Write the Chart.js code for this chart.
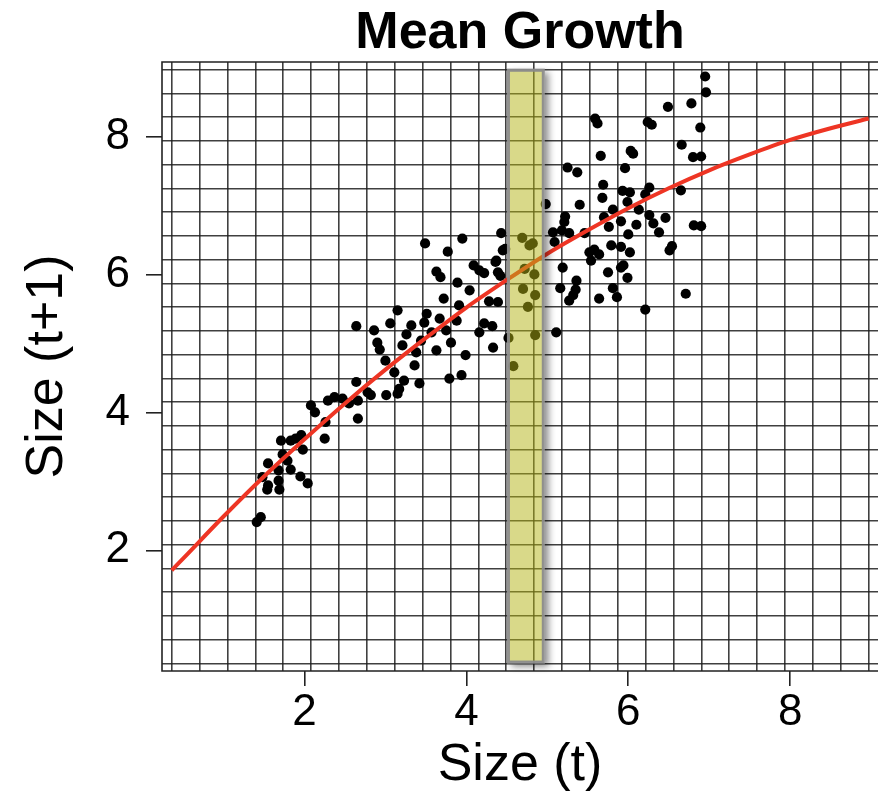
<!DOCTYPE html>
<html lang="en">
<head>
<meta charset="UTF-8">
<title>Mean Growth</title>
<script src="https://cdn.jsdelivr.net/npm/chart.js"></script>
<style>
  html, body { margin: 0; padding: 0; background: #fff; overflow: hidden; }
  #wrap { width: 878px; height: 797px; overflow: hidden; }
  canvas { display: block; }
</style>
</head>
<body>
<div id="wrap"><canvas id="growthChart"></canvas></div>
<script>
// observed sizes: size at t, size at t+1
const sizeT = [
  1.41, 1.46, 1.54, 1.55, 1.69, 1.68, 1.48, 1.55, 1.68, 1.83, 1.95, 2.04, 1.73, 1.79, 1.98, 1.71, 1.83, 1.96, 1.89, 2.25,
  2.26, 2.08, 2.13, 2.29, 2.37, 2.47, 2.55, 2.66, 2.66, 2.78, 2.82, 3.01, 3.15, 3.17, 3.23, 3.42, 2.64, 2.64, 2.86, 2.90,
  2.93, 3.00, 3.11, 3.06, 3.15, 3.21, 3.26, 3.32, 3.38, 3.44, 3.48, 3.51, 3.57, 3.63, 3.67, 3.72, 3.75, 3.81, 3.88, 3.91,
  3.94, 3.79, 3.36, 3.49, 3.63, 3.68, 3.77, 3.95, 4.09, 4.04, 3.89, 3.99,
  5.59, 5.62, 5.25, 5.37, 4.98, 5.40, 5.22, 5.21, 5.07, 5.18, 5.27, 5.09, 5.46, 4.43, 4.45, 4.48, 4.37,
  4.69, 4.78, 4.82, 4.72, 4.84, 4.70, 4.85, 4.76, 4.52, 4.85, 4.58,
  5.11, 5.52, 5.58, 5.54, 5.19, 5.36, 5.35, 5.32, 5.27, 5.16, 4.16, 4.22, 4.39, 4.42, 4.36, 4.28, 4.39, 4.22, 4.32, 4.33, 4.16,
  6.95, 6.96, 6.49, 6.78, 6.24, 6.29, 6.89, 6.66, 6.03, 6.06, 6.80, 6.90, 5.66, 5.96, 5.69, 5.68, 5.93, 6.02, 6.26, 6.21,
  6.65, 5.99, 6.13, 6.26, 6.46, 5.91, 6.10, 6.31, 6.38, 5.76, 5.81, 5.70, 6.00, 6.81, 6.90, 5.79, 5.91, 6.02, 5.64, 6.51,
  6.54, 5.75, 5.91, 5.94, 5.99, 5.81, 5.86, 5.64, 6.71, 6.21
];
const sizeT1 = [
  2.41, 2.48, 2.88, 2.94, 2.88, 3.01, 3.06, 3.26, 3.16, 3.17, 3.07, 2.97, 3.39, 3.30, 3.46, 3.59, 3.59, 3.67, 3.62, 3.62,
  3.86, 4.10, 4.00, 4.17, 4.22, 4.20, 4.13, 4.17, 3.91, 4.29, 4.25, 4.25, 4.27, 4.34, 4.46, 4.42, 4.44, 5.25, 5.19, 5.01,
  4.91, 4.75, 4.58, 5.29, 5.48, 4.97, 5.13, 5.26, 4.87, 5.04, 5.30, 5.43, 5.16, 4.90, 5.36, 5.65, 5.19, 5.01, 5.33, 5.55,
  4.54, 4.49, 4.68, 6.45, 6.04, 5.96, 6.33, 6.52, 6.13, 5.77, 5.88, 4.83,
  8.26, 8.19, 7.55, 7.48, 7.02, 7.01, 6.84, 6.76, 6.61, 6.64, 6.60, 6.47, 6.60, 6.60, 6.35, 6.37, 6.20,
  6.53, 6.42, 6.45, 6.08, 6.00, 5.79, 5.70, 5.53, 5.08, 5.12, 4.67,
  5.16, 6.32, 6.36, 6.20, 6.10, 5.91, 5.78, 5.70, 5.62, 5.80, 6.06, 6.02, 6.03, 5.98, 6.18, 5.61, 5.60, 5.29, 5.25, 4.94, 5.16,
  8.87, 8.64, 8.43, 8.48, 8.21, 8.17, 8.13, 7.88, 7.79, 7.75, 7.70, 7.71, 7.72, 7.54, 7.30, 7.11, 7.21, 7.19, 7.26, 7.16,
  7.22, 7.05, 6.94, 6.86, 6.82, 6.77, 6.72, 6.74, 6.61, 6.69, 6.94, 6.83, 6.58, 6.71, 6.70, 6.42, 6.40, 6.32, 6.29, 6.35,
  6.41, 6.03, 6.10, 6.13, 5.95, 5.80, 5.67, 5.65, 5.72, 5.49
];

// fitted mean growth curve
const curveX = [0.36, 0.5, 1.0, 1.5, 2.0, 2.5, 3.0, 3.5, 4.0, 4.5, 5.0, 5.5, 6.0, 6.5, 7.0, 7.5, 8.0, 8.5, 8.97];
const curveY = [1.71, 1.88, 2.49, 3.07, 3.61, 4.13, 4.62, 5.08, 5.52, 5.92, 6.30, 6.64, 6.96, 7.25, 7.51, 7.74, 7.95, 8.12, 8.26];

const xTickLabels = [2, 4, 6, 8];
const yTickLabels = [2, 4, 6, 8];

// highlighted size class
const bandX = [4.52, 4.95];
const bandY = [0.38, 8.96];

// integration mesh
const meshLo = 0.36, meshHi = 8.97, meshCells = 25;
const meshLines = [];
for (let k = 0; k <= meshCells; k++) meshLines.push(meshLo + k * (meshHi - meshLo) / meshCells);

const FONT = "'Liberation Sans', Arial, Helvetica, sans-serif";

function meshAxis(min, max, labels, titleText, isX) {
    return {
        type: 'linear',
        min: min,
        max: max,
        afterBuildTicks: s => {
            s.ticks = meshLines.concat(labels).sort((a, b) => a - b).map(v => ({ value: v }));
        },
        afterFit: s => {
            if (isX) s.height = 126; else s.width = 162;
            s.paddingLeft = 0; s.paddingRight = 0; s.paddingTop = 0; s.paddingBottom = 0;
        },
        ticks: {
            autoSkip: false,
            maxRotation: 0,
            padding: isX ? 0 : 16,
            color: '#000',
            font: { family: FONT, size: 44 },
            callback: v => labels.includes(v) ? String(v) : ''
        },
        grid: {
            color: c => labels.includes(c.tick.value) ? 'rgba(0,0,0,0)' : 'rgba(30,30,30,0.85)',
            tickColor: c => labels.includes(c.tick.value) ? '#222' : 'rgba(0,0,0,0)',
            lineWidth: 1.6,
            tickWidth: 1.6,
            tickLength: isX ? 15 : 16
        },
        border: { display: false },
        title: {
            display: true,
            text: titleText,
            color: '#000',
            font: { family: FONT, size: 52 },
            padding: isX ? { top: 0, bottom: 0 } : { top: 16, bottom: 0 }
        }
    };
}

const bandPlugin = {
    id: 'band',
    afterDatasetsDraw(chart) {
        const { ctx, scales: { x, y } } = chart;
        const l = x.getPixelForValue(bandX[0]), r = x.getPixelForValue(bandX[1]);
        const t = y.getPixelForValue(bandY[1]), b = y.getPixelForValue(bandY[0]);
        // soft drop shadow outside the band only
        ctx.save();
        ctx.beginPath();
        ctx.rect(0, 0, chart.width, chart.height);
        ctx.rect(l - 1.5, t - 1.5, r - l + 3, b - t + 3);
        ctx.clip('evenodd');
        ctx.shadowColor = 'rgba(0,0,0,0.45)';
        ctx.shadowBlur = 7;
        ctx.shadowOffsetX = 4;
        ctx.shadowOffsetY = 3;
        ctx.fillStyle = '#888';
        ctx.fillRect(l - 1.5, t - 1.5, r - l + 3, b - t + 3);
        ctx.restore();

        ctx.save();
        ctx.fillStyle = 'rgba(180,180,20,0.5)';
        ctx.fillRect(l, t, r - l, b - t);
        ctx.strokeStyle = 'rgba(140,140,140,0.95)';
        ctx.lineWidth = 3;
        ctx.strokeRect(l, t, r - l, b - t);
        ctx.restore();
    }
};

// plot frame: left, top and bottom (right side runs off the picture)
const framePlugin = {
    id: 'frame',
    afterDraw(chart) {
        const { ctx, chartArea: a } = chart;
        ctx.save();
        ctx.strokeStyle = '#222';
        ctx.lineWidth = 1.6;
        ctx.beginPath();
        ctx.moveTo(a.right + 2, a.top);
        ctx.lineTo(a.left, a.top);
        ctx.lineTo(a.left, a.bottom);
        ctx.lineTo(a.right + 2, a.bottom);
        ctx.stroke();
        ctx.restore();
    }
};

const ctx = document.getElementById('growthChart').getContext('2d');
new Chart(ctx, {
    type: 'scatter',
    data: {
        datasets: [
            {
                type: 'line',
                label: 'Mean growth',
                data: curveX.map((v, i) => ({ x: v, y: curveY[i] })),
                borderColor: '#ee3524',
                borderWidth: 4,
                pointRadius: 0,
                fill: false,
                cubicInterpolationMode: 'monotone'
            },
            {
                label: 'Observations',
                data: sizeT.map((v, i) => ({ x: v, y: sizeT1[i] })),
                pointRadius: 5.1,
                pointBackgroundColor: '#000',
                pointBorderWidth: 0,
                showLine: false
            }
        ]
    },
    options: {
        responsive: true,
        maintainAspectRatio: false,
        animation: false,
        events: [],
        layout: { padding: 0, autoPadding: false },
        scales: {
            x: meshAxis(0.24, 9.085, xTickLabels, 'Size (t)', true),
            y: meshAxis(0.25, 9.08, yTickLabels, 'Size (t+1)', false)
        },
        plugins: {
            legend: { display: false },
            tooltip: { enabled: false },
            title: {
                display: true,
                text: 'Mean Growth',
                color: '#000',
                fullSize: false,
                font: { family: FONT, size: 52, weight: 'bold', lineHeight: 1 },
                padding: { top: 8, bottom: 2 }
            }
        }
    },
    plugins: [bandPlugin, framePlugin]
});
</script>
</body>
</html>
